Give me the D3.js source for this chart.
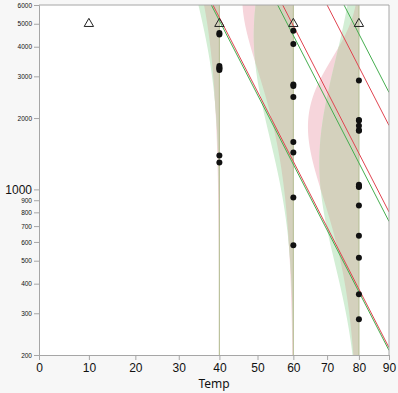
<!DOCTYPE html>
<html>
<head>
<meta charset="utf-8">
<script src="https://cdn.jsdelivr.net/npm/d3@7"></script>
<style>
  body { margin: 0; background: #f7f7f7; }
  svg { display: block; font-family: "Noto Sans", sans-serif; }
</style>
</head>
<body>
<svg id="chart" width="398" height="393"></svg>
<script>
// tick labels
const xTicks = [0, 10, 20, 30, 40, 50, 60, 70, 80, 90]
const yTicks = [200, 300, 400, 500, 600, 700, 800, 900, 1000, 2000, 3000, 4000, 5000, 6000]

// failures (hours) at each temperature
const hours40 = [1298, 1390, 3187, 3241, 3261, 3313, 4501, 4568]
const hours60 = [581, 925, 1432, 1586, 2452, 2734, 2772, 4106, 4674]
const hours80 = [283, 361, 515, 638, 854, 1024, 1030, 1045, 1767, 1777, 1856, 1951, 1964, 2884]
const failTemps = [40, 60, 80]
const failHours = [hours40, hours60, hours80]

// right-censored runs
const censorTemps = [10, 40, 60, 80]
const censorHours = [5000, 5000, 5000, 5000]

// Arrhenius fits: mu = b0 + Ea * 11605/(T+273.15), on ln(hours)
const modelNames = ['Weibull', 'Lognormal']
const modelB0 = [-13.146, -13.469]
const modelEa = [0.6287, 0.6279]
const modelSigma = [0.70, 0.9778]
const quantileProbs = [0.1, 0.5, 0.9]

const lineColor = ['#e04450', '#45ad4f']
const fillColor = ['#f6d5db', '#d3eed5']
const overlapColor = '#d4d1bd'

const W = 398, H = 393
const m = { top: 5, right: 9, bottom: 38, left: 39 }
const arr = t => 11605 / (t + 273.15)

const xu = d3.scaleLinear().domain([arr(0), arr(90)]).range([m.left, W - m.right])
const x = t => xu(arr(t))
const y = d3.scaleLog().domain([200, 6000]).range([H - m.bottom, m.top])
const dens = d3.scaleLinear().domain([0, 1]).range([0, 97])

const mu = (i, t) => modelB0[i] + modelEa[i] * arr(t)

// standard quantile / pdf of the two location-scale families
const probit = p => {
    const q = p < 0.5 ? p : 1 - p
    const t = Math.sqrt(-2 * Math.log(q))
    const z = t - (2.515517 + 0.802853 * t + 0.010328 * t * t) / (1 + 1.432788 * t + 0.189269 * t * t + 0.001308 * t * t * t)
    return p < 0.5 ? -z : z
}
const zq = (i, p) => i === 0 ? Math.log(-Math.log(1 - p)) : probit(p)
const pdf = (i, ly, t) => {
    const z = (ly - mu(i, t)) / modelSigma[i]
    const f = i === 0 ? Math.exp(z - Math.exp(z)) : Math.exp(-z * z / 2) / Math.sqrt(2 * Math.PI)
    return f / modelSigma[i]
}

const svg = d3.select('#chart')

svg.append('rect').attr('width', W).attr('height', H).attr('fill', '#f7f7f7')
svg.append('rect')
    .attr('x', m.left).attr('y', m.top)
    .attr('width', W - m.right - m.left).attr('height', H - m.bottom - m.top)
    .attr('fill', '#fff')

svg.append('clipPath').attr('id', 'plot-clip')
    .append('rect')
    .attr('x', m.left).attr('y', m.top)
    .attr('width', W - m.right - m.left).attr('height', H - m.bottom - m.top)

const plot = svg.append('g').attr('clip-path', 'url(#plot-clip)')

// density shapes, drawn leftwards from each temperature
const lyMin = Math.log(200), lyMax = Math.log(6000)
const lys = d3.range(0, 201).map(k => lyMin + (lyMax - lyMin) * k / 200)

failTemps.forEach(t => {
    const area = w => d3.area()
        .y(ly => y(Math.exp(ly)))
        .x0(x(t))
        .x1(ly => x(t) - dens(w(ly)))
    ;[0, 1].forEach(i => {
        plot.append('path')
            .attr('d', area(ly => pdf(i, ly, t))(lys))
            .attr('fill', fillColor[i])
    })
    plot.append('path')
        .attr('d', area(ly => Math.min(pdf(0, ly, t), pdf(1, ly, t)))(lys))
        .attr('fill', overlapColor)
    plot.append('line')
        .attr('x1', x(t)).attr('x2', x(t))
        .attr('y1', m.top).attr('y2', H - m.bottom)
        .attr('stroke', '#bcc29d')
        .attr('stroke-width', 1.2)
})

// quantile lines
;[0, 1].forEach(i => {
    quantileProbs.forEach(p => {
        const q = t => Math.exp(mu(i, t) + modelSigma[i] * zq(i, p))
        plot.append('line')
            .attr('x1', x(0)).attr('y1', y(q(0)))
            .attr('x2', x(90)).attr('y2', y(q(90)))
            .attr('stroke', lineColor[i])
            .attr('stroke-width', 1)
    })
})

// frame top / right
svg.append('path')
    .attr('d', `M${m.left},${m.top}H${W - m.right}V${H - m.bottom}`)
    .attr('fill', 'none')
    .attr('stroke', '#a6a6a6')

const xAxis = svg.append('g')
    .attr('transform', `translate(0,${H - m.bottom})`)
    .call(d3.axisBottom(xu).tickValues(xTicks.map(arr)).tickFormat((d, i) => xTicks[i]).tickSize(5).tickPadding(3))
xAxis.selectAll('text').attr('font-size', 12).attr('fill', '#111')

const yAxis = svg.append('g')
    .attr('transform', `translate(${m.left},0)`)
    .call(d3.axisLeft(y).tickValues(yTicks).tickFormat(d3.format('d')).tickSize(5).tickPadding(2))
yAxis.selectAll('text')
    .attr('font-size', d => d === 1000 ? 12 : 6.5)
    .attr('fill', '#111')

svg.selectAll('.domain, .tick line').attr('stroke', '#a6a6a6')

svg.append('text')
    .attr('x', (m.left + W - m.right) / 2)
    .attr('y', H - 5)
    .attr('text-anchor', 'middle')
    .attr('font-size', 12)
    .attr('fill', '#111')
    .text('Temp')

// failure points
failTemps.forEach((t, k) => {
    svg.append('g').selectAll('circle')
        .data(failHours[k])
        .join('circle')
        .attr('cx', x(t))
        .attr('cy', d => y(d))
        .attr('r', 3)
        .attr('fill', '#111')
})

// censored markers
svg.append('g').selectAll('path')
    .data(censorTemps)
    .join('path')
    .attr('transform', (t, i) => `translate(${x(t)},${y(censorHours[i])})`)
    .attr('d', d3.symbol(d3.symbolTriangle, 38))
    .attr('fill', 'none')
    .attr('stroke', '#222')
    .attr('stroke-width', 1)
</script>
</body>
</html>
